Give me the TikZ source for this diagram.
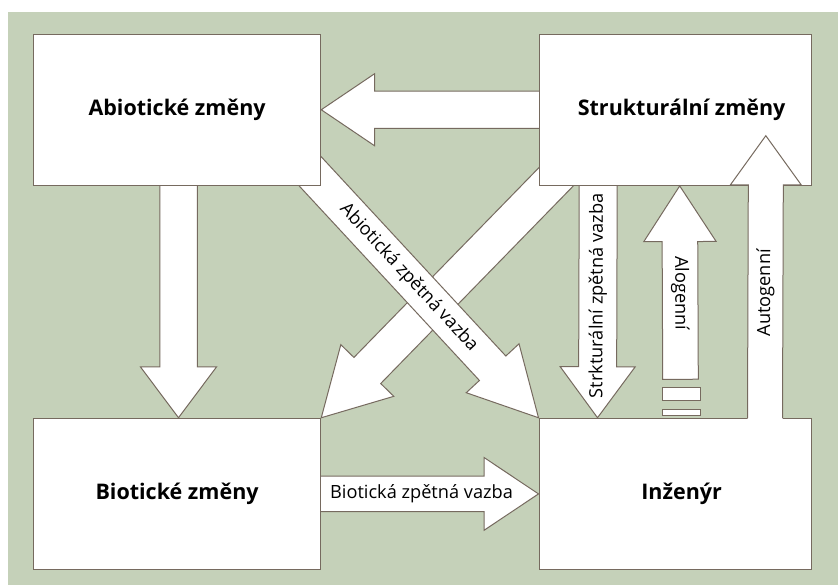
\documentclass[tikz,border=0pt]{standalone}
\usepackage{fontspec}
\setmainfont{Open Sans}
\usetikzlibrary{calc}
\definecolor{sage}{RGB}{197,209,185}
\definecolor{edge}{RGB}{118,106,95}
\pgfdeclarelayer{ground}
\pgfdeclarelayer{under}
\pgfsetlayers{ground,under,main}

% block arrow: [options]{start}{tip}{shaft half width}{head half width}{head length}
\newcommand{\fatarrow}[6][]{%
  \coordinate (hb) at ($(#3)!#6!(#2)$);
  \draw[fat,#1] ($(#2)!#4!90:(#3)$) -- ($(hb)!#4!90:(#3)$) -- ($(hb)!#5!90:(#3)$) -- (#3)
    -- ($(hb)!#5!-90:(#3)$) -- ($(hb)!#4!-90:(#3)$) -- ($(#2)!#4!-90:(#3)$) -- cycle;
}

\begin{document}
\begin{tikzpicture}[x=1pt,y=-1pt,
    box/.style={draw=edge,line width=1.3pt,fill=white,minimum height=151pt,
      inner sep=0pt,font=\fontsize{21.5}{26}\selectfont\bfseries},
    fat/.style={draw=edge,line width=1pt,fill=white,line join=miter},
    lbl/.style={font=\fontsize{18.2}{22}\selectfont,inner sep=0pt}]
        \path[use as bounding box] (0,0) rectangle (838,585);

        % Background
        \begin{pgfonlayer}{ground}
        \fill[white] (0,0) rectangle (838,585);
        \fill[sage] (8,12) rectangle (838,585);
        \end{pgfonlayer}

        % Boxes
        \node[box,minimum width=287pt] (abio) at (177.1,109.75) {Abiotické změny};
        \node[box,minimum width=272pt] (struk) at (675.15,109.75) {\hspace*{13pt}Strukturální změny};
        \node[box,minimum width=287pt] (bio) at (177.1,493.9) {Biotické změny};
        \node[box,minimum width=272pt] (inz) at (675.15,493.9) {\hspace*{13pt}Inženýr};

        % Arrow ends hidden under the boxes
        \coordinate (sa0) at ($(struk.west)+(20,0)$);
        \coordinate (ab0) at ($(abio.south)+(1.4,-20)$);
        \coordinate (ab1) at ($(bio.north)+(1.4,0)$);
        \coordinate (sw0) at (572,160.5);
        \coordinate (se0) at (294.5,154.4);
        \coordinate (sd0) at (598.3,160);
        \coordinate (sd1) at ($(inz.north west)+(59,0)$);
        \coordinate (bi0) at ($(bio.east)+(-20,0)$);

        % Arrows below the boxes
        \begin{pgfonlayer}{under}
        \fatarrow{sa0}{abio.east}{18.65pt}{36pt}{53.3pt}
        \fatarrow{ab0}{ab1}{18.75pt}{38pt}{50.8pt}
        \fatarrow{sw0}{bio.north east}{18.7pt}{37pt}{66pt}
        \fatarrow{se0}{inz.north west}{18pt}{36pt}{67.5pt}
        \fatarrow{sd0}{sd1}{19pt}{37.5pt}{51pt}
        \fatarrow{bi0}{inz.west}{17.8pt}{36.3pt}{54.3pt}
        \end{pgfonlayer}

        % Alogenni arrow with its free end
        \coordinate (al0) at (680.5,379.3);
        \coordinate (al1) at ($(struk.south west)+(141.2,0)$);
        \fatarrow{al0}{al1}{17.8pt}{36.2pt}{55.7pt}
        \draw[fat] (662.7,387.3) rectangle (700.7,400.7);
        \draw[fat] (662.7,409.3) rectangle (700.7,415.3);

        % Autogenni arrow, open into the engineer box
        \coordinate (au0) at ($(inz.north west)+(226.5,0)$);
        \coordinate (au1) at (765.8,135.7);
        \fill[white] ($(au0)+(-17.5,3)$) -- ($(au1)+(-17.5,49.3)$) -- ($(au1)+(-35.5,49.3)$) -- (au1)
          -- ($(au1)+(35.5,49.3)$) -- ($(au1)+(17.5,49.3)$) -- ($(au0)+(17.5,3)$) -- cycle;
        \draw[fat,fill=none] ($(au0)+(-17.5,0)$) -- ($(au1)+(-17.5,49.3)$) -- ($(au1)+(-35.5,49.3)$) -- (au1)
          -- ($(au1)+(35.5,49.3)$) -- ($(au1)+(17.5,49.3)$) -- ($(au0)+(17.5,0)$);

        % Arrow labels
        \path (se0) -- (inz.north west) node[lbl,pos=0.468,sloped] (abfb) {Abiotická zpětná vazba};
        \path (sd0) -- (sd1) node[lbl,pos=0.527,sloped] (stfb) {Strkturální zpětná vazba};
        \path (al0) -- (al1) node[lbl,pos=0.444,sloped] (alog) {Alogenní};
        \path (au0) -- (au1) node[lbl,pos=0.443,sloped] (auto) {Autogenní};
        \path (bi0) -- (inz.west) node[lbl,pos=0.507] (bifb) {Biotická zpětná vazba};
\end{tikzpicture}
\end{document}
